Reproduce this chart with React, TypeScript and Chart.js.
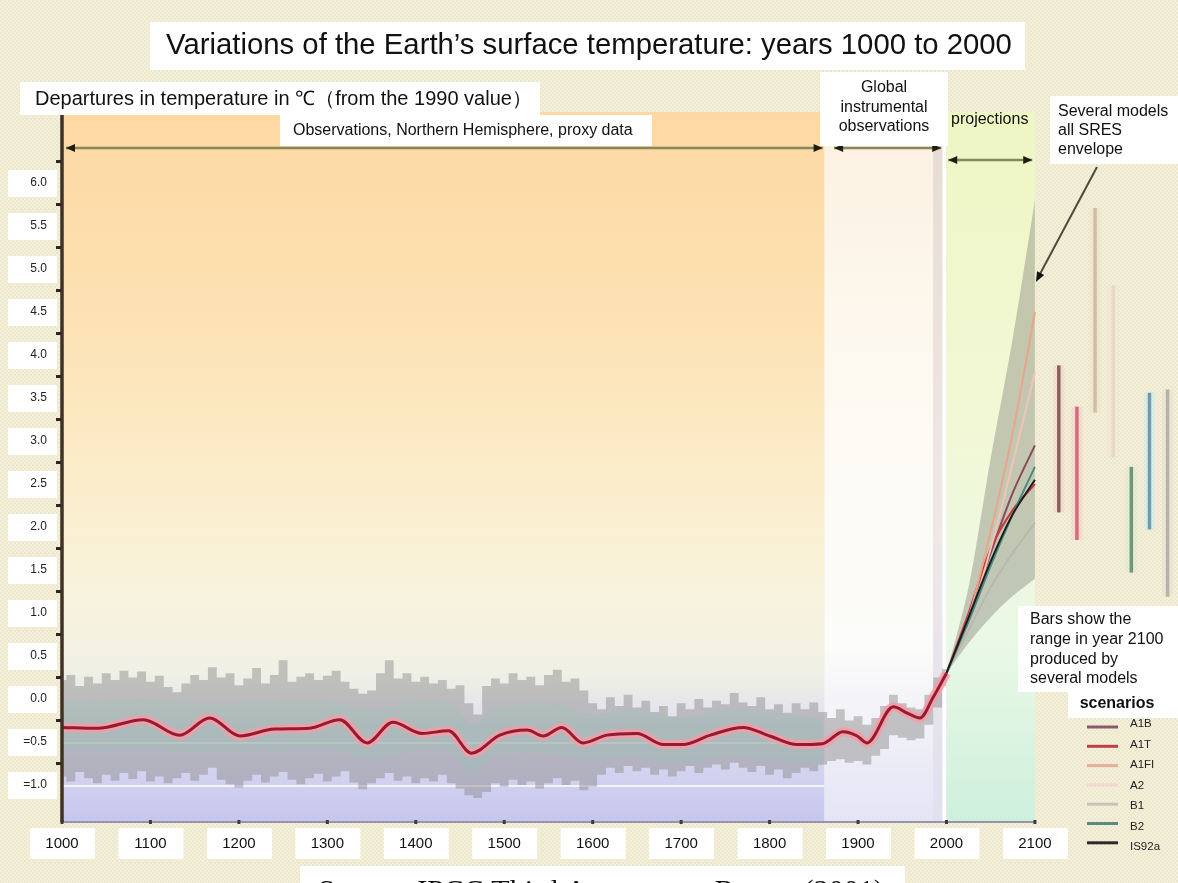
import React, { useEffect, useRef } from "react";
import { Chart, registerables } from "chart.js";

Chart.register(...registerables);

const W = 1178;
const H = 883;
const SANS = "Arial, 'Liberation Sans', Helvetica, sans-serif";
const SERIF = "'Liberation Serif', 'Times New Roman', serif";

// ---------- axis ticks ----------
const xTickYears = [1000, 1100, 1200, 1300, 1400, 1500, 1600, 1700, 1800, 1900, 2000, 2100];
const xTickLabels = ["1000", "1100", "1200", "1300", "1400", "1500", "1600", "1700", "1800", "1900", "2000", "2100"];
const yTickValues = [-1, -0.5, 0, 0.5, 1, 1.5, 2, 2.5, 3, 3.5, 4, 4.5, 5, 5.5, 6];
const yTickLabels = ["=1.0", "=0.5", "0.0", "0.5", "1.0", "1.5", "2.0", "2.5", "3.0", "3.5", "4.0", "4.5", "5.0", "5.5", "6.0"];

// ---------- period boundaries (years) ----------
const proxyEndYear = 1862;
const instrumentalEndYear = 1985;
const projectionStartYear = 2000;
const projectionEndYear = 2100;

// ---------- proxy + instrumental variability band (decadal) ----------
const bandYears = [
  1000, 1010, 1020, 1030, 1040, 1050, 1060, 1070, 1080, 1090,
  1100, 1110, 1120, 1130, 1140, 1150, 1160, 1170, 1180, 1190,
  1200, 1210, 1220, 1230, 1240, 1250, 1260, 1270, 1280, 1290,
  1300, 1310, 1320, 1330, 1340, 1350, 1360, 1370, 1380, 1390,
  1400, 1410, 1420, 1430, 1440, 1450, 1460, 1470, 1480, 1490,
  1500, 1510, 1520, 1530, 1540, 1550, 1560, 1570, 1580, 1590,
  1600, 1610, 1620, 1630, 1640, 1650, 1660, 1670, 1680, 1690,
  1700, 1710, 1720, 1730, 1740, 1750, 1760, 1770, 1780, 1790,
  1800, 1810, 1820, 1830, 1840, 1850, 1860, 1870, 1880, 1890,
  1900, 1910, 1920, 1930, 1940, 1950, 1960, 1970, 1980, 1990,
  2000,
];
const bandUpper = [
  0.22, 0.28, 0.15, 0.26, 0.18, 0.3, 0.22, 0.33, 0.25, 0.32,
  0.2, 0.27, 0.14, 0.08, 0.18, 0.28, 0.22, 0.37, 0.25, 0.3,
  0.16, 0.24, 0.36, 0.18, 0.28, 0.45, 0.2, 0.26, 0.3, 0.22,
  0.27, 0.33, 0.2, 0.12, 0.06, 0.1, 0.3, 0.45, 0.24, 0.3,
  0.2, 0.26, 0.18, 0.22, 0.12, 0.16, -0.05, -0.18, 0.15, 0.24,
  0.18, 0.3, 0.22, 0.26, 0.16, 0.28, 0.34, 0.2, 0.24, 0.1,
  -0.05, -0.12, 0.02, -0.08, 0.05, -0.1, -0.02, -0.15, -0.08, -0.2,
  -0.05, -0.12, 0.0, -0.1, -0.02, -0.06, 0.07, -0.04, -0.08, 0.02,
  -0.12, -0.06, -0.16, -0.05, -0.12, -0.04, -0.15, -0.22, -0.12, -0.25,
  -0.2, -0.3, -0.22, -0.08, 0.05, -0.05, -0.1, -0.12, 0.05, 0.25,
  0.35,
];
const bandLower = [
  -0.9, -0.96, -0.85, -0.92, -0.98, -0.88, -0.95, -0.86, -0.93, -0.84,
  -0.96, -0.9, -0.98, -0.92, -0.86, -0.95, -0.88, -0.8, -0.94, -0.99,
  -1.03, -0.95, -0.88, -0.97, -0.9, -0.85, -0.94, -0.99, -0.92, -0.87,
  -0.96, -0.9, -0.84, -0.97, -1.05, -0.98, -0.92, -0.86, -0.95, -0.9,
  -0.98, -0.92, -0.96, -0.88, -0.98, -1.04, -1.12, -1.15, -1.08, -0.98,
  -1.02, -0.94, -1.0, -0.96, -1.04, -0.98, -0.92, -1.0, -0.95, -1.06,
  -1.02, -0.88, -0.8, -0.86, -0.78, -0.84, -0.8, -0.88, -0.82, -0.9,
  -0.84, -0.78, -0.86, -0.8, -0.76, -0.82, -0.74, -0.8, -0.85, -0.78,
  -0.88, -0.82, -0.92, -0.86, -0.8, -0.84, -0.76, -0.72, -0.7, -0.74,
  -0.72, -0.76, -0.66, -0.58, -0.42, -0.45, -0.48, -0.46, -0.3, -0.1,
  0.15,
];

// ---------- proxy uncertainty range ----------
const rangeYears = [1000, 1050, 1100, 1150, 1200, 1250, 1300, 1350, 1400, 1440, 1465, 1490, 1550, 1600, 1650, 1700, 1750, 1800, 1850, 1860];
const rangeUpper = [-0.03, -0.02, 0.0, -0.05, -0.04, -0.02, -0.02, -0.12, -0.02, -0.06, -0.3, -0.1, -0.05, -0.18, -0.12, -0.22, -0.12, -0.15, -0.22, -0.25];
const rangeLower = [-0.58, -0.6, -0.58, -0.62, -0.6, -0.6, -0.58, -0.7, -0.6, -0.62, -0.85, -0.66, -0.64, -0.7, -0.68, -0.75, -0.66, -0.7, -0.76, -0.78];

// ---------- smoothed record ----------
const smoothYears = [1000, 1040, 1092, 1133, 1167, 1201, 1240, 1280, 1314, 1345, 1374, 1407, 1437, 1463, 1495, 1526, 1544, 1565, 1589, 1616, 1650, 1680, 1702, 1733, 1770, 1800, 1831, 1860, 1883, 1899, 1910, 1940, 1955, 1970, 1985, 2000];
const smoothValues = [-0.33, -0.34, -0.24, -0.42, -0.22, -0.43, -0.35, -0.34, -0.24, -0.51, -0.27, -0.4, -0.37, -0.63, -0.42, -0.36, -0.43, -0.33, -0.51, -0.42, -0.4, -0.53, -0.53, -0.42, -0.33, -0.43, -0.53, -0.52, -0.38, -0.43, -0.51, -0.09, -0.16, -0.22, 0.02, 0.3];

// ---------- projections ----------
const projYears = [2000, 2025, 2050, 2075, 2100];
const envelopeUpper = [0.3, 1.3, 2.8, 4.2, 5.8];
const envelopeLower = [0.3, 0.65, 0.95, 1.2, 1.4];
const scenarioNames = ["A1B", "A1T", "A1FI", "A2", "B1", "B2", "IS92a"];
const scenA1B = [0.3, 0.95, 1.7, 2.4, 2.95];
const scenA1T = [0.3, 1.0, 1.75, 2.2, 2.5];
const scenA1FI = [0.3, 0.95, 1.95, 3.1, 4.5];
const scenA2 = [0.3, 0.9, 1.75, 2.75, 3.8];
const scenB1 = [0.3, 0.8, 1.3, 1.7, 2.05];
const scenB2 = [0.3, 0.9, 1.55, 2.15, 2.7];
const scenIS92a = [0.3, 0.95, 1.6, 2.15, 2.55];
const scenarioValues = [scenA1B, scenA1T, scenA1FI, scenA2, scenB1, scenB2, scenIS92a];

// ---------- 2100 ranges (bars) ----------
const barLow = [2.17, 1.85, 3.33, 2.81, 1.47, 1.97, 1.19];
const barHigh = [3.88, 3.4, 5.71, 4.81, 2.7, 3.56, 3.6];

// ---------- styles ----------
const scenarioColors = ["#8b4a5a", "#c8383c", "#e6a68c", "#f0c4b8", "#b8b8ae", "#4a8a80", "#1c1c1c"];
const legendColors = ["#8a5a6a", "#c04048", "#e8b098", "#f2d8d0", "#c4c4bc", "#5a8a80", "#2a2a2a"];
const barColors = ["#8c5f5f", "#d46a7a", "#cdbfa5", "#e6d8c6", "#6d977a", "#6f9bb0", "#b9b2a8"];
const barHalos = ["rgba(240,200,200,0.35)", "rgba(250,190,200,0.35)", "rgba(230,220,200,0.25)", "rgba(240,225,210,0.2)", "rgba(200,235,210,0.3)", "rgba(190,235,245,0.45)", "rgba(220,215,210,0.25)"];

const xy = (xs: number[], ys: number[]) => xs.map((x, i) => ({ x, y: ys[i] }));

const bgPlugin = {
  id: "ipccBackground",
  beforeDraw(chart: any) {
    const { ctx, chartArea: ca, scales } = chart;
    const X = (v: number) => scales.x.getPixelForValue(v);
    const Y = (v: number) => scales.y.getPixelForValue(v);
    ctx.save();
    // page texture
    const pc = document.createElement("canvas");
    pc.width = 4;
    pc.height = 4;
    const p = pc.getContext("2d")!;
    p.fillStyle = "#f4f0da";
    p.fillRect(0, 0, 4, 4);
    p.fillStyle = "#ede7cd";
    p.fillRect(0, 0, 2, 2);
    p.fillRect(2, 2, 2, 2);
    ctx.fillStyle = ctx.createPattern(pc, "repeat");
    ctx.fillRect(0, 0, W, H);

    const x0 = X(1000), x1 = X(proxyEndYear), x2 = X(instrumentalEndYear), x3 = X(projectionStartYear), x4 = X(projectionEndYear);
    const top = ca.top, bot = ca.bottom, h = bot - top;

    let g = ctx.createLinearGradient(0, top, 0, bot);
    g.addColorStop(0, "#fdd8a2");
    g.addColorStop(0.3, "#fde2b4");
    g.addColorStop(0.52, "#fbedcb");
    g.addColorStop(0.68, "#f8f3dc");
    g.addColorStop(0.79, "#f0f0e6");
    g.addColorStop(0.87, "#dedef0");
    g.addColorStop(1, "#c6c6ee");
    ctx.fillStyle = g;
    ctx.fillRect(x0, top, x1 - x0, h);

    g = ctx.createLinearGradient(0, top, 0, bot);
    g.addColorStop(0, "#fcf0e0");
    g.addColorStop(0.4, "#fdfaf2");
    g.addColorStop(0.75, "#fcfcfa");
    g.addColorStop(1, "#e4e4f6");
    ctx.fillStyle = g;
    ctx.fillRect(x1, top, x2 - x1, h);

    g = ctx.createLinearGradient(0, top, 0, bot);
    g.addColorStop(0, "#e8dcd2");
    g.addColorStop(0.6, "#eee8e8");
    g.addColorStop(1, "#e0e0f0");
    ctx.fillStyle = g;
    ctx.fillRect(x2, top, x3 - x2, h);
    ctx.fillStyle = "#ffffff";
    ctx.fillRect(x3 - 4, top, 4, h);

    g = ctx.createLinearGradient(0, top, 0, bot);
    g.addColorStop(0, "#eef6c4");
    g.addColorStop(0.45, "#f2f8d6");
    g.addColorStop(0.75, "#eaf8e6");
    g.addColorStop(1, "#cdf0dc");
    ctx.fillStyle = g;
    ctx.fillRect(x3, top, x4 - x3, h);

    // faint white grid lines
    ctx.strokeStyle = "rgba(255,255,255,0.75)";
    ctx.lineWidth = 2;
    [-0.5, -1].forEach((v) => {
      ctx.beginPath();
      ctx.moveTo(x0, Y(v) + 1);
      ctx.lineTo(x1, Y(v) + 1);
      ctx.stroke();
    });

    // white label boxes
    ctx.fillStyle = "#ffffff";
    xTickYears.forEach((v) => {
      const px = X(v);
      ctx.fillRect(px - 32, bot + 6, 65, 31);
    });
    yTickValues.forEach((v) => {
      const py = Y(v);
      ctx.fillRect(8, py - 13, 49, 27);
    });
    ctx.restore();
  },
  afterDatasetsDraw(chart: any) {
    const { ctx, chartArea: ca, scales } = chart;
    const X = (v: number) => scales.x.getPixelForValue(v);
    const Y = (v: number) => scales.y.getPixelForValue(v);
    ctx.save();
    // bottom axis
    ctx.strokeStyle = "#9696aa";
    ctx.lineWidth = 2;
    ctx.beginPath();
    ctx.moveTo(X(1000), ca.bottom);
    ctx.lineTo(X(projectionEndYear), ca.bottom);
    ctx.stroke();
    ctx.fillStyle = "#3c3c3c";
    xTickYears.forEach((v) => ctx.fillRect(X(v) - 1.5, ca.bottom - 2, 3, 4));
    // left axis
    ctx.strokeStyle = "#3e3226";
    ctx.lineWidth = 3.5;
    ctx.beginPath();
    ctx.moveTo(X(1000), ca.top);
    ctx.lineTo(X(1000), ca.bottom);
    ctx.stroke();
    ctx.fillStyle = "#2e261e";
    yTickValues.forEach((v) => {
      ctx.fillRect(X(1000) - 6, Y(v + 0.25) - 1.5, 5, 3);
    });
    ctx.restore();
  },
  afterDraw(chart: any) {
    const { ctx, scales } = chart;
    const X = (v: number) => scales.x.getPixelForValue(v);
    ctx.save();
    const box = (x: number, y: number, w: number, h: number) => {
      ctx.fillStyle = "#ffffff";
      ctx.fillRect(x, y, w, h);
    };
    const text = (s: string, x: number, y: number, font: string, align: CanvasTextAlign = "left", color = "#111111") => {
      ctx.font = font;
      ctx.fillStyle = color;
      ctx.textAlign = align;
      ctx.textBaseline = "middle";
      ctx.fillText(s, x, y);
    };

    // arrows
    const hArrow = (xa: number, xb: number, y: number) => {
      ctx.strokeStyle = "#87875a";
      ctx.lineWidth = 2.5;
      ctx.beginPath();
      ctx.moveTo(xa, y);
      ctx.lineTo(xb, y);
      ctx.stroke();
      ctx.fillStyle = "#1e1e12";
      ctx.beginPath();
      ctx.moveTo(xa, y);
      ctx.lineTo(xa + 9, y - 4);
      ctx.lineTo(xa + 9, y + 4);
      ctx.closePath();
      ctx.fill();
      ctx.beginPath();
      ctx.moveTo(xb, y);
      ctx.lineTo(xb - 9, y - 4);
      ctx.lineTo(xb - 9, y + 4);
      ctx.closePath();
      ctx.fill();
    };
    hArrow(X(1000) + 4, X(1860), 148);
    hArrow(X(1873), X(1994), 148);
    hArrow(X(2002), X(2097), 160);

    // diagonal pointer to envelope
    ctx.strokeStyle = "#4c4c3c";
    ctx.lineWidth = 2;
    const ax = X(2100) + 1, ay = 282;
    ctx.beginPath();
    ctx.moveTo(1097, 167);
    ctx.lineTo(ax + 3, ay - 6);
    ctx.stroke();
    ctx.fillStyle = "#141410";
    const ang = Math.atan2(ay - 167, ax - 1097);
    ctx.beginPath();
    ctx.moveTo(ax, ay);
    ctx.lineTo(ax - 10 * Math.cos(ang) + 4 * Math.sin(ang), ay - 10 * Math.sin(ang) - 4 * Math.cos(ang));
    ctx.lineTo(ax - 10 * Math.cos(ang) - 4 * Math.sin(ang), ay - 10 * Math.sin(ang) + 4 * Math.cos(ang));
    ctx.closePath();
    ctx.fill();

    // title
    box(150, 22, 875, 48);
    text("Variations of the Earth\u2019s surface temperature: years 1000 to 2000", 589, 46, `29.3px ${SANS}`, "center");

    box(20, 82, 520, 33);
    text("Departures in temperature in \u2103\uFF08from the 1990 value\uFF09", 35, 99, `20px ${SANS}`);

    box(280, 115, 372, 31);
    text("Observations, Northern Hemisphere, proxy data", 293, 131, `16px ${SANS}`);

    box(820, 72, 128, 74);
    text("Global", 884, 88, `16px ${SANS}`, "center");
    text("instrumental", 884, 108, `16px ${SANS}`, "center");
    text("observations", 884, 127, `16px ${SANS}`, "center");

    text("projections", 951, 120, `16px ${SANS}`);

    box(1050, 96, 128, 68);
    text("Several models", 1058, 112, `16px ${SANS}`);
    text("all SRES", 1058, 131, `16px ${SANS}`);
    text("envelope", 1058, 150, `16px ${SANS}`);

    box(1018, 606, 160, 86);
    text("Bars show the", 1030, 620, `16px ${SANS}`);
    text("range in year 2100", 1030, 640, `16px ${SANS}`);
    text("produced by", 1030, 660, `16px ${SANS}`);
    text("several models", 1030, 679, `16px ${SANS}`);

    box(1068, 692, 110, 26);
    text("scenarios", 1117, 704, `bold 16px ${SANS}`, "center");

    scenarioNames.forEach((name, i) => {
      const ty = 724 + i * 20.5;
      const ly = ty + 3 - i * 1.2;
      ctx.strokeStyle = legendColors[i];
      ctx.lineWidth = 3;
      ctx.beginPath();
      ctx.moveTo(1087, ly);
      ctx.lineTo(1118, ly);
      ctx.stroke();
      text(name, 1130, ty, `11.5px ${SANS}`, "left", "#222222");
    });

    // source line (cut by the bottom edge)
    box(300, 866, 605, 20);
    ctx.font = `30px ${SERIF}`;
    ctx.fillStyle = "#111111";
    ctx.textAlign = "left";
    ctx.textBaseline = "alphabetic";
    ctx.fillText("Source: IPCC Third Assessment Report (2001)", 318, 900);
    ctx.restore();
  },
};

export default function App() {
  const ref = useRef<HTMLCanvasElement | null>(null);

  useEffect(() => {
    if (!ref.current) return;
    const datasets: any[] = [];
    datasets.push({
      data: xy(bandYears, bandLower),
      borderWidth: 0,
      fill: false,
      stepped: "middle",
      order: 30,
    });
    datasets.push({
      data: xy(bandYears, bandUpper),
      borderWidth: 0,
      backgroundColor: "rgba(140,140,140,0.48)",
      fill: "-1",
      stepped: "middle",
      order: 29,
    });
    datasets.push({
      data: xy(rangeYears, rangeLower),
      borderWidth: 0,
      fill: false,
      tension: 0.4,
      order: 28,
    });
    datasets.push({
      data: xy(rangeYears, rangeUpper),
      borderWidth: 0,
      backgroundColor: "rgba(140,200,175,0.22)",
      fill: "-1",
      tension: 0.4,
      order: 27,
    });
    datasets.push({
      data: xy(projYears, envelopeLower),
      borderWidth: 0,
      fill: false,
      tension: 0.3,
      order: 26,
    });
    datasets.push({
      data: xy(projYears, envelopeUpper),
      borderWidth: 0,
      backgroundColor: "rgba(150,150,138,0.5)",
      fill: "-1",
      tension: 0.3,
      order: 25,
    });
    scenarioValues.forEach((vals, i) => {
      datasets.push({
        data: xy(projYears, vals),
        borderColor: scenarioColors[i],
        borderWidth: 2,
        fill: false,
        tension: 0.3,
        order: 20 - i,
      });
    });
    datasets.push({
      data: xy(smoothYears, smoothValues),
      borderColor: "rgba(244,156,166,0.85)",
      borderWidth: 9,
      fill: false,
      cubicInterpolationMode: "monotone",
      order: 6,
    });
    datasets.push({
      data: xy(smoothYears, smoothValues),
      borderColor: "#981a30",
      borderWidth: 3,
      fill: false,
      cubicInterpolationMode: "monotone",
      order: 5,
    });
    barLow.forEach((lo, i) => {
      const bx = 2127 + i * 20.5;
      datasets.push({
        data: [{ x: bx, y: lo }, { x: bx, y: barHigh[i] }],
        borderColor: barHalos[i],
        borderWidth: 11,
        fill: false,
        order: 4,
      });
      datasets.push({
        data: [{ x: bx, y: lo }, { x: bx, y: barHigh[i] }],
        borderColor: barColors[i],
        borderWidth: 3.5,
        borderCapStyle: "butt",
        fill: false,
        order: 1,
      });
    });

    const chart = new Chart(ref.current, {
      type: "line",
      data: { datasets },
      options: {
        animation: false,
        responsive: false,
        devicePixelRatio: 1,
        layout: { padding: { top: 112, right: 2, left: 0, bottom: 0 } },
        elements: { point: { radius: 0 } },
        plugins: {
          legend: { display: false },
          title: { display: false },
          tooltip: { enabled: false },
        },
        scales: {
          x: {
            type: "linear",
            min: 1000,
            max: 2259.5,
            afterBuildTicks: (s: any) => {
              s.ticks = xTickYears.map((v) => ({ value: v }));
            },
            afterFit: (s: any) => {
              s.height = 61;
            },
            border: { display: false },
            grid: { display: false, drawTicks: false },
            ticks: {
              autoSkip: false,
              maxRotation: 0,
              padding: 13,
              color: "#111111",
              font: { family: SANS, size: 15 },
              callback: (_v: any, i: number) => xTickLabels[i],
            },
          },
          y: {
            type: "linear",
            min: -1.43,
            max: 6.826,
            afterBuildTicks: (s: any) => {
              s.ticks = yTickValues.map((v) => ({ value: v }));
            },
            afterFit: (s: any) => {
              s.width = 62;
            },
            border: { display: false },
            grid: { display: false, drawTicks: false },
            ticks: {
              autoSkip: false,
              padding: 15,
              color: "#222222",
              font: { family: SANS, size: 12 },
              callback: (_v: any, i: number) => yTickLabels[i],
            },
          },
        },
      },
      plugins: [bgPlugin],
    } as any);
    return () => chart.destroy();
  }, []);

  return (
    <div style={{ position: "absolute", left: 0, top: 0, width: W, height: H, overflow: "hidden" }}>
      <canvas ref={ref} width={W} height={H} style={{ display: "block", width: W, height: H }} />
    </div>
  );
}
